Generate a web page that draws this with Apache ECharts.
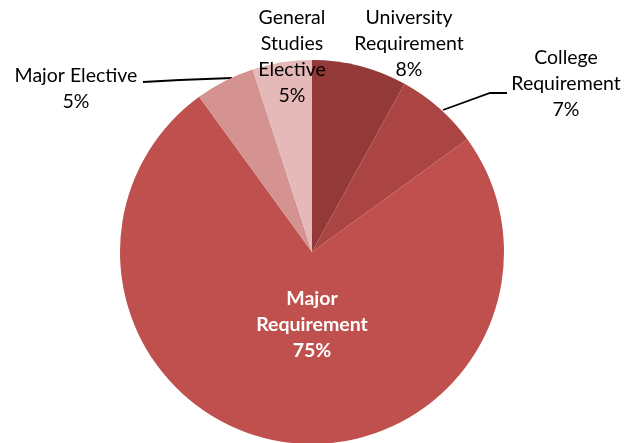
<!DOCTYPE html>
<html>
<head>
<meta charset="utf-8">
<script src="https://cdn.jsdelivr.net/npm/echarts@6/dist/echarts.min.js"></script>
<style>html,body{margin:0;padding:0;background:#fff}#c{width:638px;height:443px}</style>
</head>
<body>
<div id="c"></div>
<script>
const categories = ['University\nRequirement', 'College\nRequirement', 'Major\nRequirement', 'Major Elective', 'General\nStudies\nElective'];
const values = [8, 7, 75, 5, 5];
const colors = ['#933A38', '#AA4543', '#C0504D', '#D49391', '#E5B9B8'];

const labelPos = [[409, 44], [566, 84], [312, 325], [76, 89], [292, 57]];
const linePts = {
  1: [[443, 110], [490, 93], [507, 93]],
  3: [[232, 78], [180, 80], [143, 82]]
};

const chart = echarts.init(document.getElementById('c'));
chart.setOption({
  animation: false,
  series: [{
    type: 'pie',
    center: [312, 252],
    radius: 192,
    startAngle: 90,
    clockwise: true,
    avoidLabelOverlap: false,
    itemStyle: { borderWidth: 0 },
    label: {
      show: true,
      formatter: '{b}\n{d}%',
      fontFamily: 'Lato, "Open Sans", sans-serif',
      fontSize: 19.5,
      lineHeight: 26,
      color: '#000',
      align: 'center'
    },
    labelLine: { show: true, lineStyle: { color: '#000', width: 1.8 } },
    labelLayout: function (p) {
      const i = p.dataIndex;
      const r = { x: labelPos[i][0], y: labelPos[i][1], align: 'center', verticalAlign: 'middle' };
      if (linePts[i]) r.labelLinePoints = linePts[i];
      return r;
    },
    data: categories.map((c, i) => {
      const d = { name: c, value: values[i], itemStyle: { color: colors[i] } };
      if (i === 2) {
        d.label = { position: 'inside', color: '#fff', fontWeight: 'bold' };
        d.labelLine = { show: false };
      } else if (!linePts[i]) {
        d.labelLine = { show: false };
      }
      return d;
    })
  }]
});
</script>
</body>
</html>
